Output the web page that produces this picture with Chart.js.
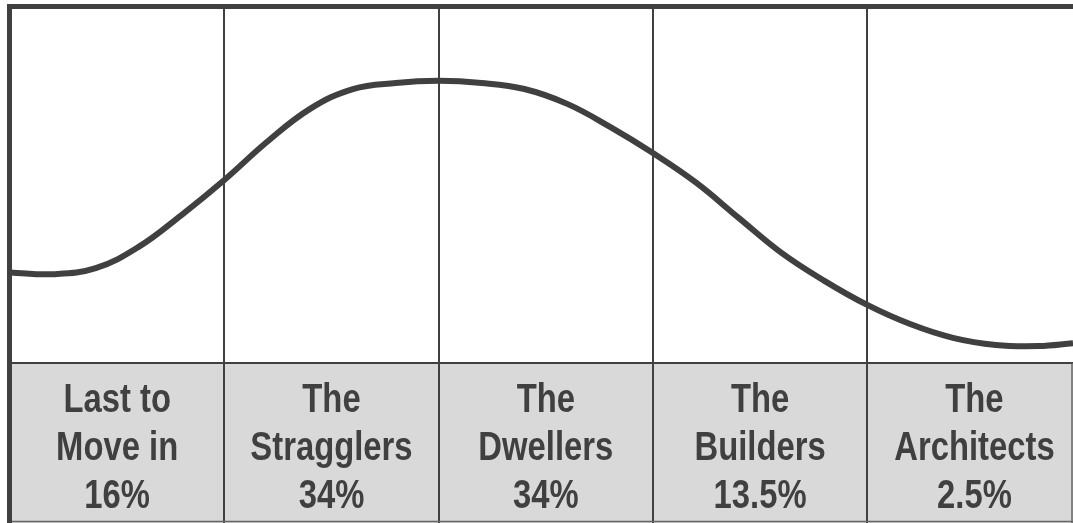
<!DOCTYPE html>
<html>
<head>
<meta charset="utf-8">
<script src="https://cdn.jsdelivr.net/npm/chart.js@4/dist/chart.umd.min.js"></script>
<style>
    html, body { margin: 0; padding: 0; background: #fff; }
    #wrap { width: 1073px; height: 523px; }
</style>
</head>
<body>
<div id="wrap"><canvas id="adoptionChart" width="1073" height="523"></canvas></div>
<script>
const categoryLines = [['Last to', 'Move in'], ['The', 'Stragglers'], ['The', 'Dwellers'], ['The', 'Builders'], ['The', 'Architects']];
const shares = [16, 34, 34, 13.5, 2.5];
const curveX = [0, 0.2, 0.4, 0.6, 0.8, 1.0, 1.2, 1.4, 1.6, 1.8, 2.0, 2.2, 2.4, 2.6, 2.8, 3.0, 3.2, 3.4, 3.6, 3.8, 4.0, 4.2, 4.4, 4.6, 4.8, 4.96];
const curveY = [25.6, 25.1, 26.8, 32.8, 41.8, 51.7, 62.5, 71.8, 77.4, 79.1, 79.7, 79.1, 77.4, 73.2, 66.7, 59.3, 51.0, 41.0, 31.1, 23.2, 16.4, 11.0, 7.1, 5.1, 4.8, 5.6];
const tickValues = [0, 1, 2, 3, 4];

(function (window, document) {
    const ink = '#404040';
    const band = '#d9d9d9';
    const labelFont = "bold 41px 'Liberation Sans', Arial, sans-serif";

    const framePlugin = {
        id: 'frame',
        beforeDraw(chart) {
            const { ctx, chartArea, width, height } = chart;
            ctx.save();
            ctx.fillStyle = '#fff';
            ctx.fillRect(0, 0, width, height);
            ctx.fillStyle = band;
            ctx.fillRect(chartArea.left, chartArea.bottom, width - chartArea.left, height - chartArea.bottom);
            ctx.restore();
        },
        afterDraw(chart) {
            const { ctx, chartArea, width, height } = chart;
            const x = chart.scales.x;
            ctx.save();
            ctx.strokeStyle = ink;
            ctx.lineWidth = 2;
            ctx.beginPath();
            for (let i = 1; i < 5; i++) {
                const px = Math.round(x.getPixelForValue(i));
                ctx.moveTo(px, chartArea.bottom);
                ctx.lineTo(px, height);
            }
            ctx.moveTo(chartArea.left, chartArea.bottom);
            ctx.lineTo(width, chartArea.bottom);
            ctx.stroke();
            ctx.lineWidth = 1.5;
            ctx.strokeStyle = '#666';
            ctx.beginPath();
            ctx.moveTo(chartArea.left, height - 1.5);
            ctx.lineTo(width, height - 1.5);
            ctx.moveTo(width - 1, chartArea.bottom);
            ctx.lineTo(width - 1, height);
            ctx.stroke();

            // category labels, narrowed to look like a condensed face
            ctx.fillStyle = ink;
            ctx.font = labelFont;
            ctx.textAlign = 'center';
            ctx.textBaseline = 'alphabetic';
            categoryLines.forEach((lines, i) => {
                const cx = x.getPixelForValue(i + 0.5);
                [...lines, shares[i] + '%'].forEach((text, j) => {
                    ctx.save();
                    ctx.translate(cx, chartArea.bottom + 49 + j * 48);
                    ctx.scale(0.8, 1);
                    ctx.fillText(text, 0, 0);
                    ctx.restore();
                });
            });

            ctx.fillStyle = ink;
            ctx.fillRect(7, 4, width - 7, 5);
            ctx.fillRect(7, 4, 5, height - 4);
            ctx.restore();
        }
    };

    function renderChart() {
        const canvas = document.getElementById('adoptionChart');
        if (!canvas || typeof Chart === 'undefined') return;

        new Chart(canvas, {
            type: 'line',
            data: {
                datasets: [{
                    data: curveX.map((v, i) => ({ x: v, y: curveY[i] })),
                    borderColor: ink,
                    borderWidth: 6,
                    pointRadius: 0,
                    tension: 0.4,
                    fill: false
                }]
            },
            options: {
                responsive: false,
                animation: false,
                layout: { padding: { top: 9, left: 10, right: 0, bottom: 0 } },
                plugins: { legend: { display: false }, tooltip: { enabled: false } },
                scales: {
                    x: {
                        type: 'linear',
                        min: 0,
                        max: 4.96,
                        afterBuildTicks: scale => { scale.ticks = tickValues.map(v => ({ value: v })); },
                        afterFit: scale => { scale.height = 160; },
                        border: { display: false },
                        grid: {
                            drawTicks: false,
                            lineWidth: 2,
                            color: c => (c.tick && c.tick.value > 0) ? ink : 'rgba(0,0,0,0)'
                        },
                        ticks: { display: false }
                    },
                    y: { display: false, min: 0, max: 100 }
                }
            },
            plugins: [framePlugin]
        });
    }

    document.addEventListener('DOMContentLoaded', renderChart);
})(window, document);
</script>
</body>
</html>
